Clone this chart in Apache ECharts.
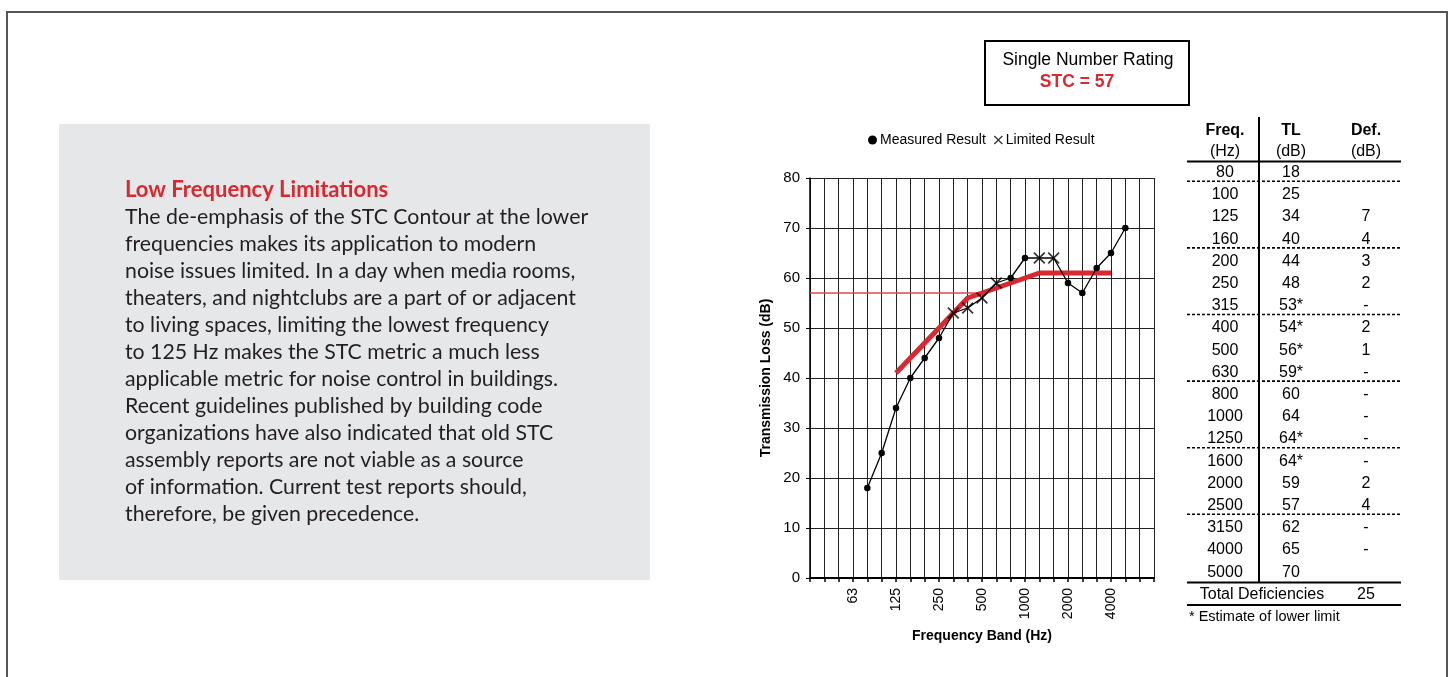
<!DOCTYPE html>
<html>
<head>
<meta charset="utf-8">
<title>STC chart</title>
<script src="https://cdn.jsdelivr.net/npm/echarts@6/dist/echarts.min.js"></script>
<style>
  html, body { margin: 0; padding: 0; background: #fff; }
  #chart { width: 1450px; height: 677px; }
</style>
</head>
<body>
<div id="chart"></div>
<script>
// one-third octave bands on the x axis
const bands = ['31.5', '40', '50', '63', '80', '100', '125', '160', '200', '250', '315', '400',
  '500', '630', '800', '1000', '1250', '1600', '2000', '2500', '3150', '4000', '5000', '6300', '8000']
const labelledBands = ['63', '125', '250', '500', '1000', '2000', '4000']

// measured results (table rows)
const tableFreq = ['80', '100', '125', '160', '200', '250', '315', '400', '500', '630',
  '800', '1000', '1250', '1600', '2000', '2500', '3150', '4000', '5000']
const measured = [18, 25, 34, 40, 44, 48, 53, 54, 56, 59, 60, 64, 64, 64, 59, 57, 62, 65, 70]
const limited = [false, false, false, false, false, false, true, true, true, true,
  false, false, true, true, false, false, false, false, false]
const deficiencies = ['', '', '7', '4', '3', '2', '-', '2', '1', '-', '-', '-', '-', '-', '2', '4', '-', '-', '']
const totalDeficiencies = 25

// STC contour vertices
const stc = 57
const contourBands = ['125', '400', '500', '1250', '4000']
const contourValues = [41, 56, 57, 61, 61]
const stcRefBands = ['31.5', '500']

const headline = 'Low Frequency Limitations'
const bodyLines = [
  'The de-emphasis of the STC Contour at the lower',
  'frequencies makes its application to modern',
  'noise issues limited. In a day when media rooms,',
  'theaters, and nightclubs are a part of or adjacent',
  'to living spaces, limiting the lowest frequency',
  'to 125 Hz makes the STC metric a much less',
  'applicable metric for noise control in buildings.',
  'Recent guidelines published by building code',
  'organizations have also indicated that old STC',
  'assembly reports are not viable as a source',
  'of information. Current test reports should,',
  'therefore, be given precedence.'
]

const RED = '#d9282f'
const FONT = '"Liberation Sans", Arial, sans-serif'
const X_PATH = 'path://M0,1L1,0L5,4L9,0L10,1L6,5L10,9L9,10L5,6L1,10L0,9L4,5Z'

function onBands(keys, vals) {
  const arr = bands.map(() => null)
  keys.forEach((k, i) => { arr[bands.indexOf(k)] = vals[i] })
  return arr
}

const measuredData = onBands(tableFreq, measured.map((v, i) => limited[i] ? { value: v, symbol: 'none' } : v))
const limitedData = onBands(tableFreq, measured.map((v, i) => limited[i] ? v : null))
const contourData = onBands(contourBands, contourValues)
const stcRefData = onBands(stcRefBands, stcRefBands.map(() => stc))

// table as graphic elements
function buildTable() {
  const els = []
  const colX = [1225, 1291, 1366]
  const left = 1187, right = 1401
  const row0 = 172.5, rowH = 22.2
  const txt = (x, y, text, opts) => ({
    type: 'text', silent: true,
    style: Object.assign({ x, y, text, fill: '#000', font: '16px ' + FONT, align: 'center', verticalAlign: 'middle' }, opts || {})
  })
  const hline = (y, w, dash) => ({
    type: 'line', silent: true,
    shape: { x1: left, y1: y, x2: right, y2: y },
    style: { stroke: '#000', lineWidth: w, lineDash: dash || null }
  })
  ;['Freq.', 'TL', 'Def.'].forEach((t, i) => els.push(txt(colX[i], 131, t, { font: 'bold 16px ' + FONT })))
  ;['(Hz)', '(dB)', '(dB)'].forEach((t, i) => els.push(txt(colX[i], 152, t)))
  els.push(hline(161.5, 2))
  tableFreq.forEach((f, i) => {
    const y = row0 + rowH * i
    els.push(txt(colX[0], y, f))
    els.push(txt(colX[1], y, measured[i] + (limited[i] ? '*' : '')))
    els.push(txt(colX[2], y, deficiencies[i]))
    if (i % 3 === 0 && i < tableFreq.length - 1) els.push(hline(y + 8.8, 1.6, [3, 2]))
  })
  const yEnd = row0 + rowH * (tableFreq.length - 1) + 10.5
  els.push({
    type: 'line', silent: true,
    shape: { x1: 1259, y1: 117, x2: 1259, y2: yEnd },
    style: { stroke: '#000', lineWidth: 2 }
  })
  els.push(hline(yEnd, 2))
  els.push(txt(1262, yEnd + 11.5, 'Total Deficiencies'))
  els.push(txt(colX[2], yEnd + 11.5, String(totalDeficiencies)))
  els.push(hline(yEnd + 22.5, 2))
  els.push(txt(1189, yEnd + 34, '* Estimate of lower limit', { font: '14.5px ' + FONT, align: 'left' }))
  return els
}

const chart = echarts.init(document.getElementById('chart'))

chart.setOption({
  backgroundColor: '#fff',
  animation: false,
  textStyle: { fontFamily: FONT },
  grid: { left: 810, right: 296, top: 178, bottom: 99, containLabel: false },
  legend: {
    left: 863,
    top: 128,
    itemWidth: 9,
    itemHeight: 9,
    itemGap: 8,
    textStyle: { fontSize: 14, color: '#000', fontFamily: FONT, padding: [0, 0, 0, -2] },
    data: [
      { name: 'Measured Result', icon: 'circle' },
      { name: 'Limited Result', icon: X_PATH }
    ]
  },
  xAxis: {
    type: 'category',
    data: bands,
    boundaryGap: false,
    name: 'Frequency Band (Hz)',
    nameLocation: 'middle',
    nameGap: 51,
    nameTextStyle: { fontWeight: 'bold', fontSize: 14, color: '#000', fontFamily: FONT },
    axisLine: { lineStyle: { color: '#000', width: 2 } },
    axisTick: { interval: 0, length: 4, lineStyle: { color: '#000', width: 1.5 } },
    axisLabel: {
      rotate: 90,
      margin: 10,
      fontSize: 14,
      color: '#000',
      interval: (i, v) => labelledBands.includes(v)
    },
    splitLine: { show: true, interval: 0, lineStyle: { color: '#222', width: 1 } }
  },
  yAxis: {
    type: 'value',
    min: 0,
    max: 80,
    interval: 10,
    name: 'Transmission Loss (dB)',
    nameLocation: 'middle',
    nameGap: 37,
    nameTextStyle: { fontWeight: 'bold', fontSize: 14, color: '#000', fontFamily: FONT },
    axisLine: { show: true, lineStyle: { color: '#000', width: 1.5 } },
    axisTick: { show: true, length: 4, lineStyle: { color: '#000' } },
    axisLabel: { fontSize: 15, color: '#000', margin: 10 },
    splitLine: { show: true, lineStyle: { color: '#222', width: 1 } }
  },
  series: [
    {
      name: 'STC reference',
      type: 'line',
      data: stcRefData,
      connectNulls: true,
      symbol: 'none',
      lineStyle: { color: '#e0474d', width: 1.5 },
      z: 2
    },
    {
      name: 'STC Contour',
      type: 'line',
      data: contourData,
      connectNulls: true,
      symbol: 'none',
      lineStyle: { color: RED, width: 5, cap: 'butt' },
      z: 3
    },
    {
      name: 'Measured Result',
      type: 'line',
      data: measuredData,
      symbol: 'circle',
      symbolSize: 6.5,
      itemStyle: { color: '#000' },
      lineStyle: { color: '#000', width: 1.3 },
      z: 4
    },
    {
      name: 'Limited Result',
      type: 'scatter',
      data: limitedData,
      symbol: X_PATH,
      symbolSize: 12,
      itemStyle: { color: '#000' },
      z: 5
    }
  ],
  graphic: [
    // outer frame
    {
      type: 'rect', silent: true,
      shape: { x: 7, y: 12, width: 1440, height: 700 },
      style: { fill: 'none', stroke: '#555', lineWidth: 2 }
    },
    // side panel
    {
      type: 'rect', silent: true,
      shape: { x: 59, y: 124, width: 591, height: 456 },
      style: { fill: '#e6e7e8' }
    },
    {
      type: 'text', silent: true,
      style: { x: 125, y: 190, text: headline, fill: RED, font: 'bold 22px Lato, sans-serif', verticalAlign: 'middle' }
    },
    {
      type: 'text', silent: true,
      style: {
        x: 125, y: 203.5, text: bodyLines.join('\n'), fill: '#231f20',
        font: '21.3px Lato, sans-serif', lineHeight: 27, verticalAlign: 'top'
      }
    },
    // single number rating box
    {
      type: 'rect', silent: true,
      shape: { x: 985, y: 41, width: 204, height: 64 },
      style: { fill: '#fff', stroke: '#000', lineWidth: 2 }
    },
    {
      type: 'text', silent: true,
      style: { x: 1088, y: 60, text: 'Single Number Rating', fill: '#000', font: '17.5px ' + FONT, align: 'center', verticalAlign: 'middle' }
    },
    {
      type: 'text', silent: true,
      style: { x: 1077, y: 82, text: 'STC = ' + stc, fill: RED, font: 'bold 17.5px ' + FONT, align: 'center', verticalAlign: 'middle' }
    }
  ].concat(buildTable())
})
</script>
</body>
</html>
